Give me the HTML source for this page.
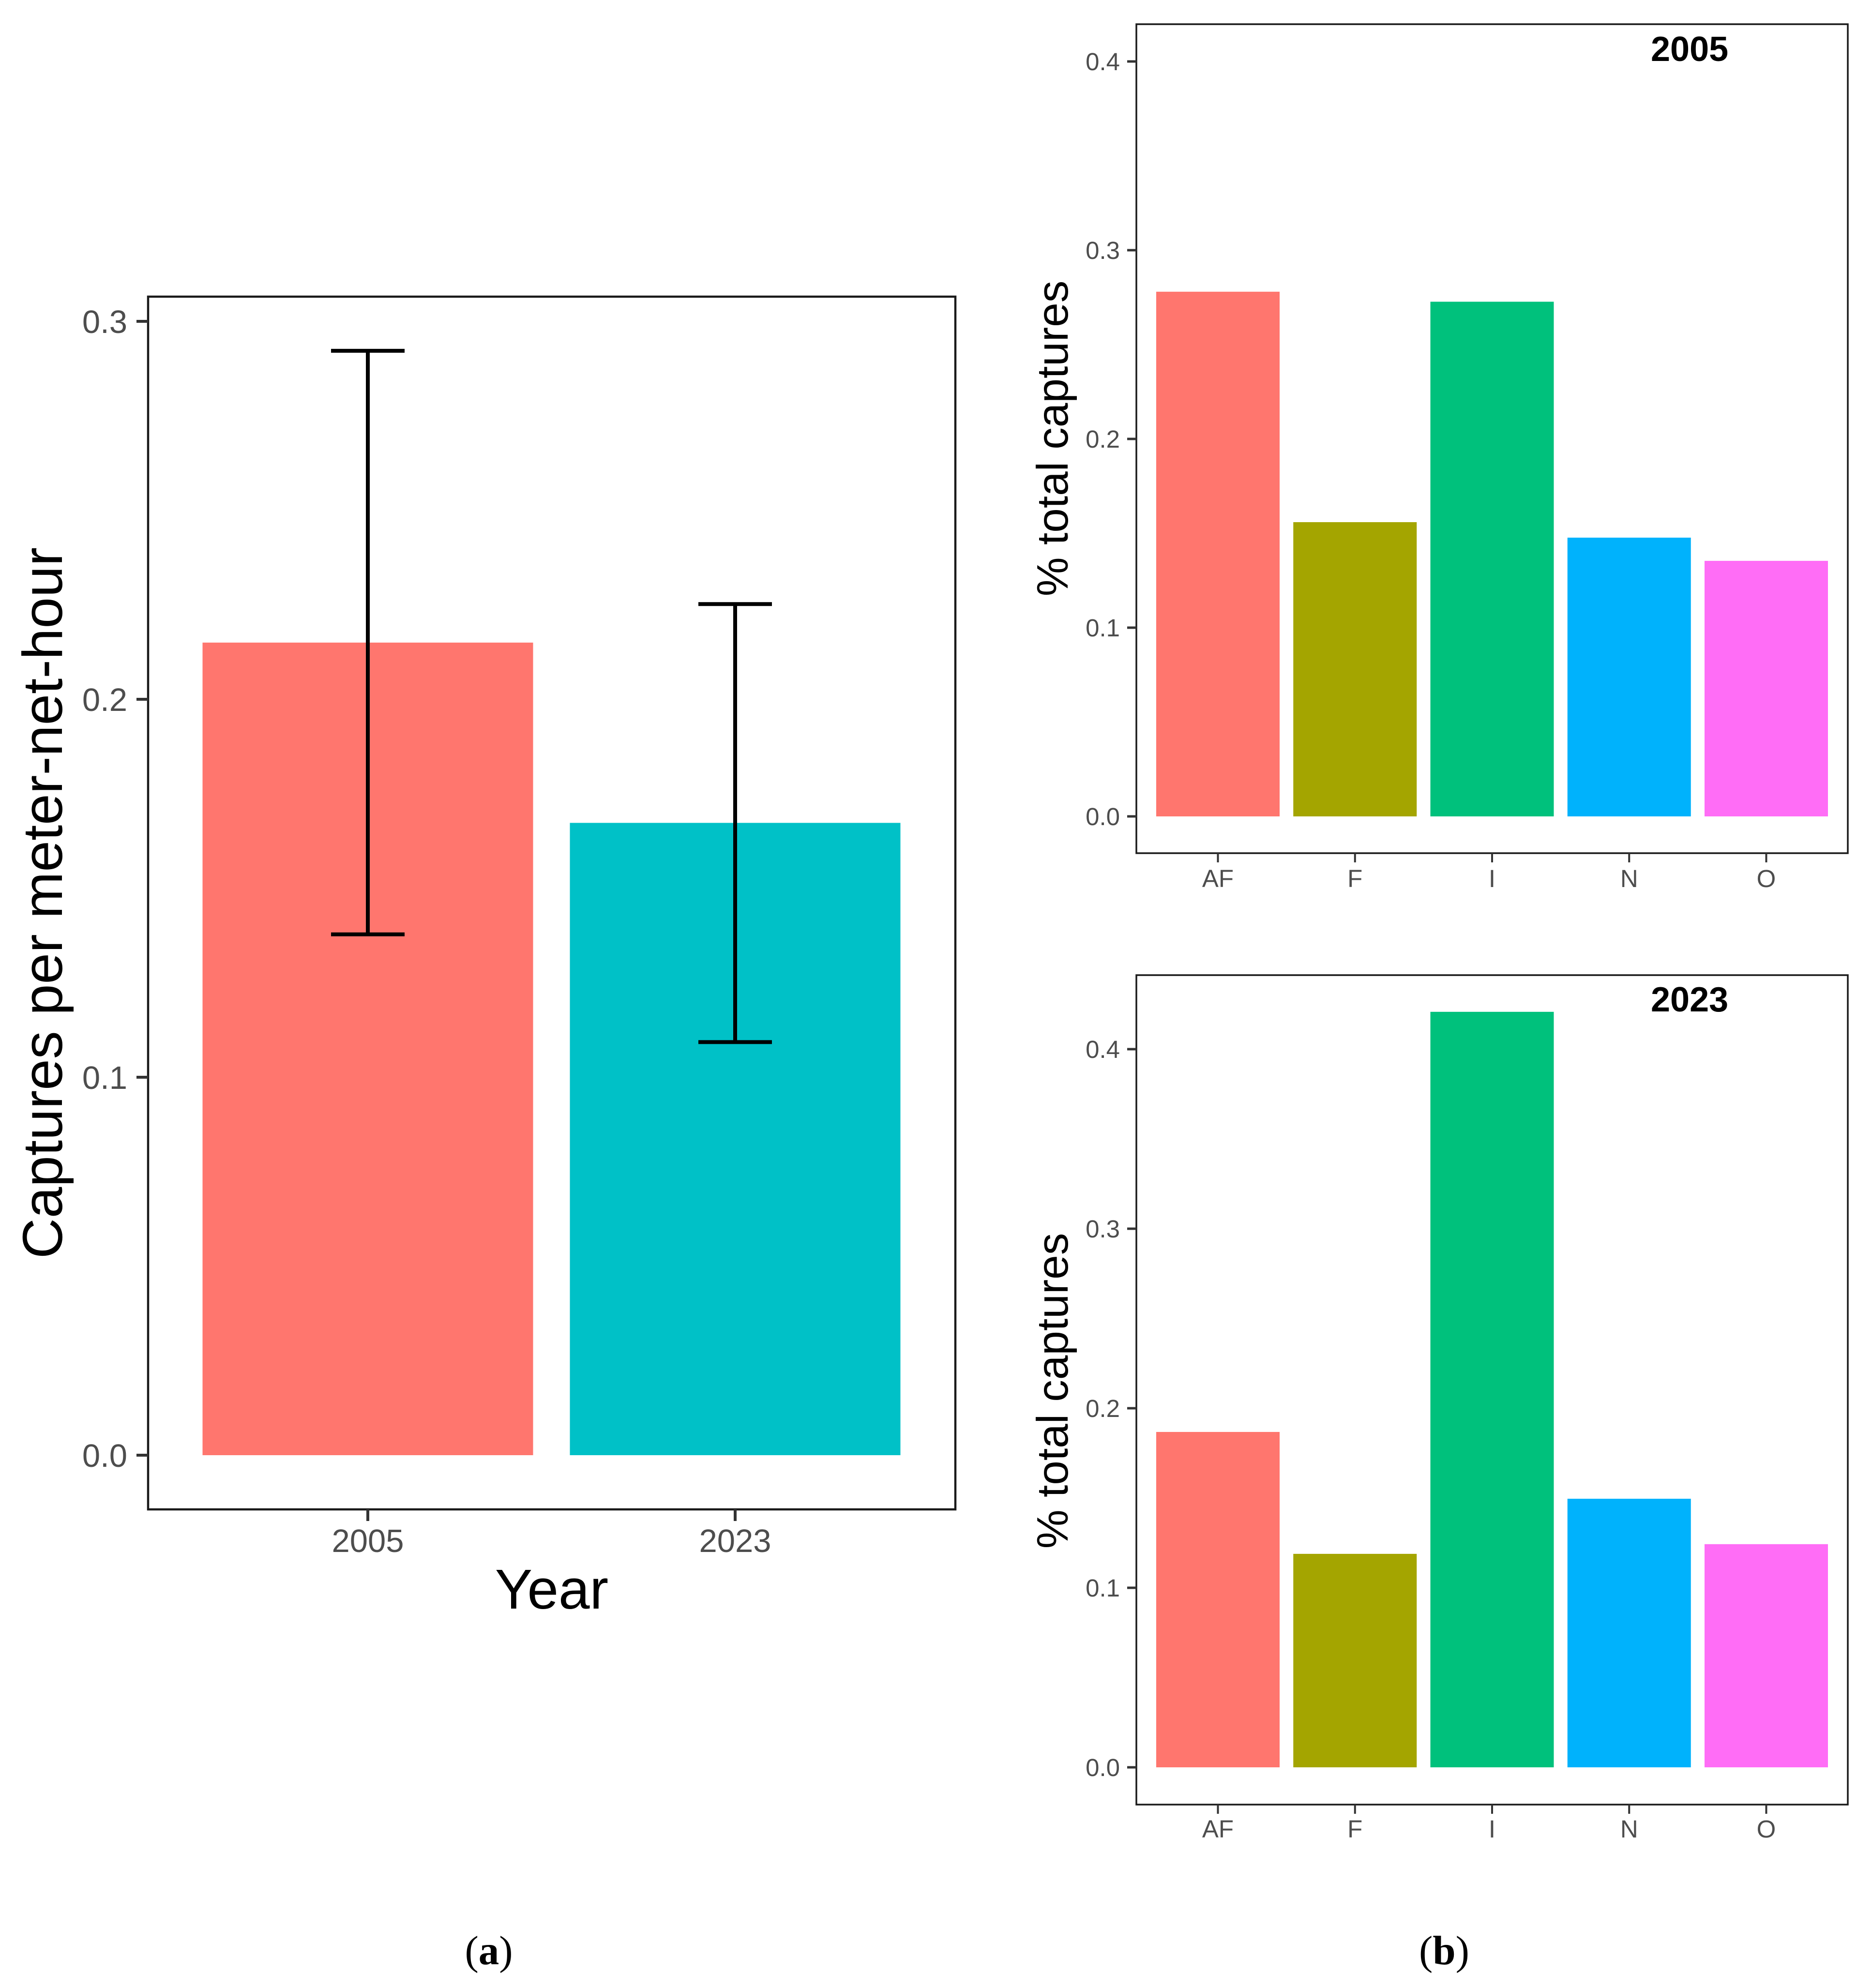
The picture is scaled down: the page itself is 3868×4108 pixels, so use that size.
<!DOCTYPE html>
<html lang="en">
<head>
<meta charset="utf-8">
<title>Captures per meter-net-hour and % total captures by year</title>
<style>
  html, body { margin: 0; padding: 0; background: #fff; }
  svg { display: block; }
  text { font-family: "Liberation Sans", Arial, sans-serif; }
  .tick-label { fill: #4d4d4d; }
  .axis-title { fill: #000; }
  .caption { font-family: "Liberation Serif", "Times New Roman", serif; fill: #000; font-size: 85px; }
</style>
</head>
<body>
<svg id="figure" xmlns="http://www.w3.org/2000/svg" width="3868" height="4108" viewBox="0 0 3868 4108">
  <rect x="0" y="0" width="3868" height="4108" fill="#fff"/>
  <g id="panel-a"></g>
  <g id="panel-b-2005"></g>
  <g id="panel-b-2023"></g>

  <text class="axis-title" font-size="116" text-anchor="middle" transform="translate(128 1866) rotate(-90)">Captures per meter-net-hour</text>
  <text class="axis-title" font-size="116" text-anchor="middle" x="1140" y="3324">Year</text>
  <text class="axis-title" font-size="91" text-anchor="middle" transform="translate(2206 906) rotate(-90)">% total captures</text>
  <text class="axis-title" font-size="91" text-anchor="middle" transform="translate(2206 2874) rotate(-90)">% total captures</text>
  <text font-size="72" font-weight="700" fill="#000" x="3411" y="126">2005</text>
  <text font-size="72" font-weight="700" fill="#000" x="3411" y="2090">2023</text>
  <text class="caption" text-anchor="middle" x="1010" y="4059">(<tspan font-weight="700">a</tspan>)</text>
  <text class="caption" text-anchor="middle" x="2984" y="4059">(<tspan font-weight="700">b</tspan>)</text>
</svg>

<script>
// Panel (a) data
const yearCategories = ['2005', '2023'];
const captureMeans = [0.215, 0.1673];
const captureUpper = [0.2922, 0.2252];
const captureLower = [0.1378, 0.1093];
const captureTicks = [0, 0.1, 0.2, 0.3];
const captureTickLabels = ['0.0', '0.1', '0.2', '0.3'];
const yearColors = ['#ff766e', '#00c1c7'];

// Panel (b) data
const guildCategories = ['AF', 'F', 'I', 'N', 'O'];
const guildShare2005 = [0.278, 0.1559, 0.2727, 0.1477, 0.1354];
const guildShare2023 = [0.1868, 0.1189, 0.4208, 0.1496, 0.1243];
const shareTicks = [0, 0.1, 0.2, 0.3, 0.4];
const shareTickLabels = ['0.0', '0.1', '0.2', '0.3', '0.4'];
const guildColors = ['#ff766e', '#a4a500', '#00c17c', '#00b2fc', '#ff6df6'];

const SVG_NS = 'http://www.w3.org/2000/svg';

function mk(parent, tag, attrs, content) {
  const el = document.createElementNS(SVG_NS, tag);
  for (const key in attrs) el.setAttribute(key, attrs[key]);
  if (content !== undefined) el.textContent = content;
  parent.appendChild(el);
  return el;
}

function linearScale(zeroPx, pxPerUnit) {
  return function (v) { return zeroPx - v * pxPerUnit; };
}

function bandScale(firstCenter, step) {
  return function (i) { return firstCenter + i * step; };
}

function drawFrame(g, box, strokeWidth, prefix) {
  const frame = mk(g, 'rect', { x: box.left, y: box.top, width: box.right - box.left, height: box.bottom - box.top, fill: 'none', stroke: '#1a1a1a', 'stroke-width': strokeWidth });
  
  
}

function drawYAxis(g, box, y, ticks, labels, opts, prefix) {
  ticks.forEach(function (t, i) {
    const mark = mk(g, 'line', { x1: box.left - opts.tickLen, x2: box.left, y1: y(t), y2: y(t), stroke: '#333', 'stroke-width': opts.tickWidth });
    
    
    const label = mk(g, 'text', { class: 'tick-label', x: opts.labelRight, y: y(t) + opts.baselineShift, 'font-size': opts.fontSize, 'text-anchor': 'end' }, labels[i]);
    
    
  });
}

function drawXAxis(g, box, x, categories, opts, prefix) {
  categories.forEach(function (c, i) {
    const mark = mk(g, 'line', { x1: x(i), x2: x(i), y1: box.bottom, y2: box.bottom + opts.tickLen, stroke: '#333', 'stroke-width': opts.tickWidth });
    
    
    const label = mk(g, 'text', { class: 'tick-label', x: x(i), y: opts.labelBaseline, 'font-size': opts.fontSize, 'text-anchor': 'middle' }, c);
    
    
  });
}

function drawBars(g, x, y, categories, values, colors, barWidth, prefix) {
  values.forEach(function (v, i) {
    const bar = mk(g, 'rect', { x: x(i) - barWidth / 2, y: y(v), width: barWidth, height: y(0) - y(v), fill: colors[i] });
    
    
  });
}

// ---- Panel (a) ----
(function () {
  const g = document.getElementById('panel-a');
  const box = { left: 306, right: 1974, top: 613, bottom: 3119 };
  const x = bandScale(760, 759);
  const y = linearScale(3007, 7810);
  drawBars(g, x, y, yearCategories, captureMeans, yearColors, 683, 'captures');

  yearCategories.forEach(function (c, i) {
    const cx = x(i);
    const stem = mk(g, 'line', { x1: cx, x2: cx, y1: y(captureUpper[i]), y2: y(captureLower[i]), stroke: '#000', 'stroke-width': 8 });
    
    
    const capTop = mk(g, 'line', { x1: cx - 76, x2: cx + 76, y1: y(captureUpper[i]), y2: y(captureUpper[i]), stroke: '#000', 'stroke-width': 8 });
    
    
    const capBottom = mk(g, 'line', { x1: cx - 76, x2: cx + 76, y1: y(captureLower[i]), y2: y(captureLower[i]), stroke: '#000', 'stroke-width': 8 });
    
    
  });

  drawFrame(g, box, 4.5, 'captures');
  drawYAxis(g, box, y, captureTicks, captureTickLabels, { tickLen: 24, tickWidth: 6, labelRight: 263, baselineShift: 24, fontSize: 67 }, 'captures');
  drawXAxis(g, box, x, yearCategories, { tickLen: 24, tickWidth: 6, labelBaseline: 3207, fontSize: 67 }, 'captures');
})();

// ---- Panel (b) ----
function drawShareChart(groupId, box, zeroPx, pxPerUnit, values, labelBaseline, prefix) {
  const g = document.getElementById(groupId);
  const x = bandScale(2516.5, 283.25);
  const y = linearScale(zeroPx, pxPerUnit);
  drawBars(g, x, y, guildCategories, values, guildColors, 255, prefix);
  drawFrame(g, box, 3.5, prefix);
  drawYAxis(g, box, y, shareTicks, shareTickLabels, { tickLen: 19, tickWidth: 5, labelRight: 2314, baselineShift: 18, fontSize: 51 }, prefix);
  drawXAxis(g, box, x, guildCategories, { tickLen: 19, tickWidth: 4, labelBaseline: labelBaseline, fontSize: 51 }, prefix);
}

drawShareChart('panel-b-2005', { left: 2348, right: 3818, top: 50, bottom: 1763 }, 1687, 3900, guildShare2005, 1833, 'share-2005');
drawShareChart('panel-b-2023', { left: 2348, right: 3818, top: 2015, bottom: 3729 }, 3652, 3710, guildShare2023, 3797, 'share-2023');
</script>
</body>
</html>
